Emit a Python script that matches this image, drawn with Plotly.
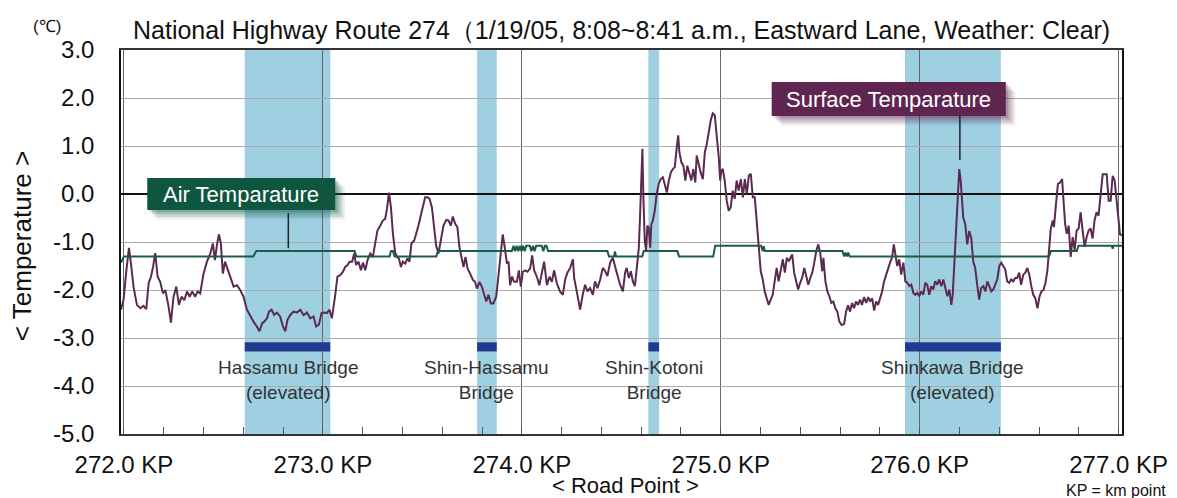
import plotly.graph_objects as go

# ---------------- data ----------------
surface_km = [
271.985,271.998,272.012,272.025,272.035,272.048,272.065,272.082,272.098,272.112,272.124,272.136,272.146,272.157,272.169,
272.182,272.196,272.208,272.224,272.236,272.249,272.263,272.276,272.289,272.303,272.317,272.330,272.343,272.358,272.370,
272.383,272.400,272.417,272.434,272.447,272.457,272.467,272.477,272.487,272.497,272.508,272.518,272.534,272.551,272.568,
272.584,272.601,272.618,272.635,272.651,272.668,272.681,272.695,272.705,272.719,272.729,272.742,272.755,272.769,272.785,
272.799,272.811,272.822,272.836,272.852,272.869,272.886,272.903,272.920,272.936,272.953,272.966,272.980,272.993,273.007,
273.020,273.033,273.045,273.062,273.073,273.087,273.101,273.112,273.124,273.134,273.147,273.157,273.167,273.179,273.191,
273.201,273.213,273.224,273.238,273.251,273.263,273.274,273.288,273.302,273.313,273.322,273.332,273.342,273.352,273.363,
273.372,273.382,273.392,273.402,273.414,273.425,273.435,273.445,273.459,273.469,273.480,273.492,273.503,273.514,273.526,
273.536,273.548,273.559,273.569,273.581,273.593,273.606,273.620,273.631,273.643,273.653,273.665,273.676,273.686,273.696,
273.707,273.717,273.727,273.740,273.754,273.765,273.774,273.787,273.799,273.811,273.821,273.832,273.844,273.857,273.871,
273.882,273.894,273.904,273.916,273.925,273.933,273.941,273.951,273.961,273.975,273.985,273.995,274.005,274.017,274.028,
274.042,274.052,274.062,274.075,274.088,274.101,274.112,274.126,274.139,274.151,274.162,274.176,274.192,274.206,274.218,
274.229,274.243,274.257,274.263,274.273,274.284,274.293,274.306,274.318,274.330,274.343,274.357,274.368,274.380,274.394,
274.407,274.419,274.430,274.444,274.457,274.469,274.480,274.494,274.508,274.519,274.527,274.538,274.548,274.558,274.568,
274.578,274.588,274.594,274.601,274.606,274.611,274.618,274.625,274.631,274.638,274.645,274.651,274.658,274.668,274.678,
274.688,274.698,274.709,274.719,274.729,274.739,274.749,274.759,274.769,274.779,274.786,274.792,274.802,274.812,274.822,
274.832,274.842,274.852,274.862,274.872,274.879,274.889,274.899,274.910,274.920,274.930,274.940,274.950,274.960,274.970,
274.980,274.990,274.997,275.003,275.010,275.020,275.030,275.040,275.050,275.060,275.070,275.080,275.090,275.101,275.111,
275.121,275.131,275.141,275.151,275.161,275.171,275.181,275.191,275.201,275.211,275.221,275.231,275.241,275.251,275.261,
275.271,275.281,275.291,275.302,275.312,275.322,275.332,275.342,275.352,275.359,275.369,275.379,275.389,275.399,275.409,
275.420,275.430,275.440,275.450,275.460,275.470,275.480,275.490,275.500,275.510,275.516,275.526,275.536,275.546,275.556,
275.566,275.576,275.586,275.596,275.608,275.620,275.630,275.640,275.650,275.660,275.670,275.680,275.690,275.700,275.710,
275.720,275.731,275.741,275.751,275.761,275.771,275.781,275.791,275.801,275.811,275.821,275.831,275.841,275.851,275.861,
275.870,275.878,275.887,275.897,275.907,275.918,275.928,275.938,275.948,275.958,275.968,275.978,275.988,275.998,276.008,
276.018,276.028,276.038,276.048,276.058,276.068,276.078,276.088,276.098,276.109,276.119,276.129,276.139,276.149,276.159,
276.166,276.173,276.179,276.186,276.193,276.199,276.206,276.213,276.219,276.229,276.239,276.249,276.259,276.269,276.279,
276.289,276.299,276.309,276.320,276.330,276.340,276.350,276.360,276.370,276.380,276.390,276.400,276.410,276.420,276.430,
276.440,276.450,276.460,276.470,276.480,276.490,276.500,276.510,276.521,276.531,276.541,276.551,276.561,276.571,276.581,
276.592,276.602,276.612,276.622,276.632,276.642,276.652,276.659,276.669,276.675,276.685,276.695,276.706,276.716,276.722,
276.731,276.739,276.749,276.759,276.769,276.779,276.789,276.799,276.809,276.819,276.829,276.839,276.849,276.859,276.869,
276.879,276.889,276.899,276.910,276.920,276.930,276.940,276.950,276.960,276.970,276.980,276.990,277.000,277.007,277.017,
]
surface_temp = [
-2.41,-2.20,-1.59,-1.12,-1.45,-1.93,-2.31,-2.38,-2.33,-2.40,-1.86,-1.72,-1.52,-1.23,-1.72,
-1.83,-2.07,-2.00,-2.34,-2.68,-2.14,-1.93,-2.31,-2.14,-2.21,-2.03,-2.14,-2.03,-2.14,-2.03,
-2.07,-1.66,-1.41,-1.24,-1.03,-1.38,-1.07,-0.84,-1.03,-1.66,-1.41,-1.52,-1.72,-1.93,-1.90,
-2.00,-2.14,-2.41,-2.55,-2.66,-2.76,-2.86,-2.69,-2.66,-2.59,-2.45,-2.41,-2.52,-2.47,-2.55,
-2.76,-2.86,-2.62,-2.52,-2.45,-2.47,-2.41,-2.52,-2.47,-2.59,-2.55,-2.76,-2.72,-2.48,-2.47,
-2.48,-2.41,-2.59,-2.10,-1.72,-1.69,-1.62,-1.52,-1.48,-1.41,-1.41,-1.24,-1.48,-1.41,-1.59,
-1.43,-1.59,-1.38,-1.24,-1.31,-0.97,-0.76,-0.66,-0.55,-0.52,-0.31,0.03,-0.28,-0.83,-1.21,
-1.31,-1.34,-1.52,-1.41,-1.45,-1.34,-1.41,-1.03,-0.97,-0.79,-0.66,-0.45,-0.28,-0.07,-0.07,
-0.10,-0.28,-0.76,-1.07,-1.24,-0.97,-0.66,-0.54,-0.55,-0.66,-0.47,-0.62,-0.69,-1.10,-1.31,
-1.52,-1.31,-1.55,-1.66,-1.79,-1.83,-1.97,-1.83,-1.93,-2.10,-2.24,-2.10,-2.28,-2.28,-2.14,
-1.72,-1.17,-0.84,-1.17,-1.45,-1.41,-1.90,-1.72,-1.83,-1.83,-1.59,-1.93,-1.62,-1.59,-1.62,
-1.55,-1.28,-1.59,-1.72,-1.90,-1.59,-1.41,-1.90,-1.72,-1.83,-1.59,-1.86,-2.03,-2.10,-1.78,
-1.64,-1.54,-1.36,-1.75,-1.96,-2.24,-2.41,-2.10,-1.89,-2.03,-1.96,-2.10,-1.82,-1.96,-1.78,
-1.54,-1.61,-1.71,-1.43,-1.33,-1.54,-1.68,-1.89,-2.03,-1.64,-1.54,-1.75,-1.61,-1.82,-1.92,
-1.54,-1.12,-0.49,0.28,0.94,-0.07,-0.98,-1.19,-0.66,-0.70,-1.12,-0.63,-0.56,-0.35,0.00,
0.21,0.31,0.35,0.21,0.03,0.28,0.45,0.52,0.56,0.98,1.22,0.87,0.66,0.59,0.28,
0.59,0.42,0.28,0.52,0.24,0.80,0.59,0.45,0.31,0.87,1.05,1.33,1.54,1.68,1.64,
1.19,0.77,0.28,0.49,0.52,0.28,-0.14,-0.35,-0.28,0.07,-0.10,0.28,0.07,0.31,-0.07,
0.31,0.00,0.38,0.42,-0.07,-0.07,-0.56,-1.12,-1.61,-1.78,-2.03,-2.17,-2.31,-2.20,-2.10,
-1.82,-1.54,-1.82,-1.54,-1.36,-1.64,-1.33,-1.40,-1.33,-1.26,-1.64,-1.82,-1.99,-1.85,-1.75,
-1.54,-1.75,-1.89,-1.75,-1.64,-1.43,-1.19,-1.05,-1.22,-1.61,-1.33,-1.82,-2.03,-2.13,-2.27,
-2.24,-2.38,-2.45,-2.66,-2.73,-2.71,-2.45,-2.32,-2.45,-2.27,-2.38,-2.24,-2.31,-2.20,-2.31,
-2.15,-2.27,-2.15,-2.24,-2.17,-2.43,-2.24,-2.31,-2.17,-2.03,-1.82,-1.68,-1.57,-1.43,-1.33,
-1.05,-1.26,-1.50,-1.36,-1.68,-1.43,-1.82,-1.85,-1.92,-1.89,-2.06,-2.10,-2.06,-2.13,-2.03,
-2.10,-1.85,-1.89,-2.10,-1.92,-1.99,-1.82,-1.89,-1.78,-1.92,-1.78,-1.96,-2.13,-1.99,-2.31,
-2.10,-1.54,-0.98,-0.42,0.14,0.52,0.28,-0.07,-0.49,-0.63,-1.05,-0.77,-0.91,-1.40,-1.54,
-1.89,-2.20,-1.96,-1.92,-2.03,-1.82,-1.92,-2.03,-1.99,-1.89,-1.78,-1.50,-1.43,-1.50,-1.57,
-1.82,-1.85,-1.78,-1.82,-1.75,-1.75,-1.64,-1.89,-1.68,-1.64,-1.54,-1.68,-1.92,-2.10,-2.17,
-2.38,-2.14,-2.03,-2.00,-1.86,-1.59,-1.17,-0.72,-0.55,-0.69,-0.21,0.21,0.24,0.31,-0.07,
-0.62,-0.83,-0.66,-1.31,-0.90,-1.17,-0.76,-0.72,-0.38,-0.76,-1.10,-0.90,-0.76,-0.72,-0.93,
-0.55,-0.38,-0.45,0.00,0.41,0.41,0.41,-0.14,-0.14,0.38,0.28,-0.14,-0.55,-0.84,-0.86,
]

air_km = [
271.985,272.000,272.650,272.665,273.160,273.168,273.335,273.342,273.352,273.360,273.570,273.578,
273.950,273.958,273.966,273.974,273.982,273.990,273.998,274.006,274.014,274.022,274.040,274.048,
274.056,274.064,274.072,274.100,274.108,274.116,274.124,274.132,274.143,
274.430,274.438,274.464,274.468,274.474,274.605,274.613,274.782,274.790,274.962,274.972,
275.203,275.211,275.216,275.222,275.612,275.620,275.627,275.634,275.641,275.648,275.655,
276.650,276.660,276.790,276.798,276.966,276.970,276.974,277.017,
]
air_temp = [
-1.43,-1.30,-1.30,-1.19,-1.19,-1.30,-1.30,-1.19,-1.19,-1.30,-1.30,-1.19,
-1.19,-1.08,-1.19,-1.08,-1.19,-1.08,-1.19,-1.08,-1.19,-1.08,-1.08,-1.19,
-1.08,-1.19,-1.08,-1.08,-1.19,-1.08,-1.08,-1.19,-1.19,
-1.19,-1.30,-1.30,-1.20,-1.30,-1.30,-1.19,-1.19,-1.30,-1.30,-1.08,
-1.08,-1.19,-1.09,-1.19,-1.19,-1.30,-1.22,-1.30,-1.22,-1.30,-1.30,
-1.30,-1.19,-1.19,-1.08,-1.08,-1.14,-1.08,-1.08,
]

bridge_names = ["Hassamu Bridge<br>(elevated)", "Shin-Hassamu<br>Bridge",
                "Shin-Kotoni<br>Bridge", "Shinkawa Bridge<br>(elevated)"]
bridge_start = [272.607, 273.775, 274.636, 275.926]
bridge_end = [273.037, 273.874, 274.690, 276.408]

x_ticks = [272.0, 273.0, 274.0, 275.0, 276.0, 277.0]
x_tick_text = ["272.0 KP", "273.0 KP", "274.0 KP", "275.0 KP", "276.0 KP", "277.0 KP"]
y_ticks = [3, 2, 1, 0, -1, -2, -3, -4, -5]
y_tick_text = ["3.0", "2.0", "1.0", "0.0", "-1.0", "-2.0", "-3.0", "-4.0", "-5.0"]

FONT = "Arial, Liberation Sans, sans-serif"
SURF_COL = "#5a2a50"
AIR_COL = "#1d5b47"
BAND_COL = "#9fd0e2"
BAR_COL = "#213a8f"

fig = go.Figure()
fig.add_trace(go.Scatter(x=surface_km, y=surface_temp, mode="lines",
                         line=dict(color=SURF_COL, width=2), showlegend=False))
fig.add_trace(go.Scatter(x=air_km, y=air_temp, mode="lines",
                         line=dict(color=AIR_COL, width=2), showlegend=False))

shapes = []
annotations = []
for name, s, e in zip(bridge_names, bridge_start, bridge_end):
    shapes.append(dict(type="rect", xref="x", yref="paper", x0=s, x1=e, y0=0, y1=1,
                       fillcolor=BAND_COL, line=dict(width=0), layer="below"))
    shapes.append(dict(type="rect", xref="x", yref="y", x0=s, x1=e, y0=-3.28, y1=-3.09,
                       fillcolor=BAR_COL, line=dict(width=0), layer="above"))
    annotations.append(dict(x=(s + e) / 2, y=-3.87, xref="x", yref="y", text=name,
                            showarrow=False, font=dict(family=FONT, size=19, color="#333"),
                            align="center", xanchor="center", yanchor="middle"))

# label boxes with soft shadows
def label_box(x0, x1, y0, y1, color, text, lead_x, lead_y0, lead_y1):
    for k, op in [(12, 0.10), (9, 0.14), (6, 0.18), (3, 0.22)]:
        dx = k * 0.004
        dy = k * 0.016
        shapes.append(dict(type="rect", xref="x", yref="y", x0=x0 + dx, x1=x1 + dx,
                           y0=y0 - dy, y1=y1 - dy, fillcolor=color, opacity=op,
                           line=dict(width=0), layer="above"))
    shapes.append(dict(type="rect", xref="x", yref="y", x0=x0, x1=x1, y0=y0, y1=y1,
                       fillcolor=color, line=dict(width=0), layer="above"))
    shapes.append(dict(type="line", xref="x", yref="y", x0=lead_x, x1=lead_x,
                       y0=lead_y0, y1=lead_y1, line=dict(color="#222", width=1.5),
                       layer="above"))
    annotations.append(dict(x=(x0 + x1) / 2, y=(y0 + y1) / 2, xref="x", yref="y",
                            text=text, showarrow=False, xanchor="center",
                            font=dict(family=FONT, size=22, color="white")))

label_box(272.117, 273.062, -0.333, 0.333, "#0f5640", "Air Temparature",
          272.826, -0.40, -1.13)
label_box(275.256, 276.433, 1.625, 2.333, "#5e2550", "Surface Temparature",
          276.202, 1.625, 0.71)

# text around the chart
annotations += [
    dict(x=0.5, y=1.052, xref="paper", yref="paper", showarrow=False,
         text="National Highway Route 274（1/19/05, 8:08~8:41 a.m., Eastward Lane, Weather: Clear)",
         font=dict(family=FONT, size=25, color="#111"), xanchor="center", yanchor="middle"),
    dict(x=-0.0736, y=1.06, xref="paper", yref="paper", showarrow=False, text="(℃)",
         font=dict(family=FONT, size=17, color="#111"), xanchor="center", yanchor="middle"),
    dict(x=-0.0986, y=0.49, xref="paper", yref="paper", showarrow=False,
         text="< Temperature >", textangle=-90,
         font=dict(family=FONT, size=26, color="#111"), xanchor="center", yanchor="middle"),
    dict(x=0.5036, y=-0.134, xref="paper", yref="paper", showarrow=False,
         text="< Road Point >", font=dict(family=FONT, size=22, color="#111"),
         xanchor="center", yanchor="middle"),
    dict(x=1.046, y=-0.146, xref="paper", yref="paper", showarrow=False,
         text="KP = km point", font=dict(family=FONT, size=16, color="#111"),
         xanchor="right", yanchor="middle"),
]

# the page body adds an 8 px offset; size the figure so the plot area lands in place
fig.update_layout(
    width=1169, height=490,
    margin=dict(l=113, r=55, t=42, b=64, autoexpand=False),
    plot_bgcolor="white", paper_bgcolor="white",
    shapes=shapes, annotations=annotations,
    font=dict(family=FONT),
    showlegend=False,
)
fig.update_xaxes(
    range=[271.985, 277.017], tickvals=x_ticks, ticktext=x_tick_text,
    showgrid=True, gridcolor="#666", gridwidth=1, zeroline=False,
    showline=True, linecolor="#333", linewidth=2, mirror=True,
    ticks="", ticklabelstandoff=8, automargin=False,
    tickfont=dict(family=FONT, size=24, color="#111"),
    minor=dict(ticks="inside", tick0=272.0, dtick=0.2, ticklen=7, tickcolor="#555",
               tickwidth=1, showgrid=False),
)
fig.update_yaxes(
    range=[-5, 3], tickvals=y_ticks, ticktext=y_tick_text,
    showgrid=True, gridcolor="#aaa", gridwidth=1,
    zeroline=True, zerolinecolor="#111", zerolinewidth=1.5,
    showline=True, linecolor="#111", linewidth=1.5, mirror=True,
    ticks="", ticklabelstandoff=20, automargin=False,
    tickfont=dict(family=FONT, size=24, color="#111"),
)

fig.write_html("out.html")
